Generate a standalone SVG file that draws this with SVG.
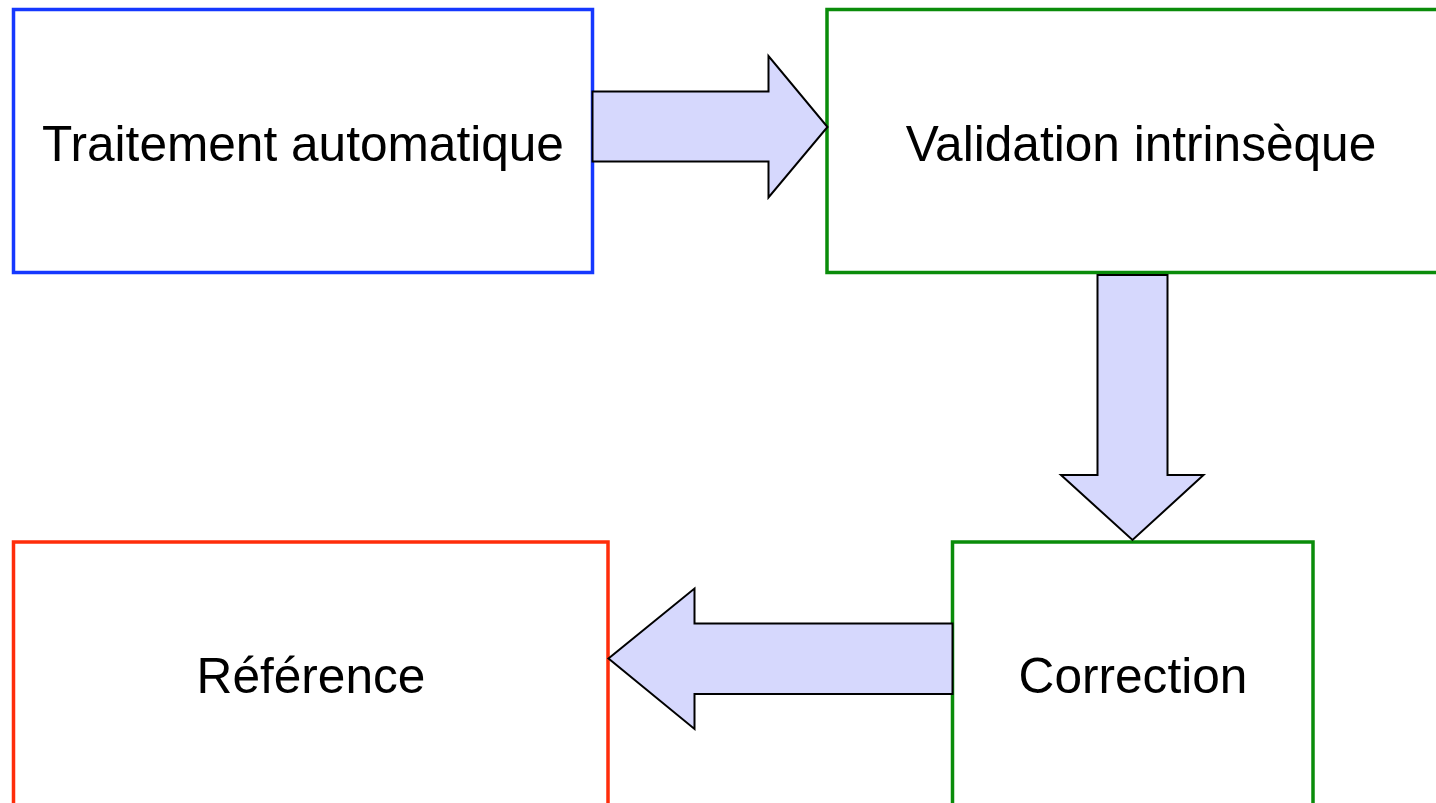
<svg xmlns="http://www.w3.org/2000/svg" width="1436" height="803" viewBox="0 0 1436 803">
  <style>
    .box { fill: #ffffff; stroke-width: 3.5; }
    .auto { stroke: #1538ff; }
    .valid { stroke: #0a8c0a; }
    .ref { stroke: #ff2d0a; }
    .lbl { font-family: "Liberation Sans", Arial, sans-serif; font-size: 49.6px; fill: #000000; text-anchor: middle; }
    .flow { fill: #d6d8fd; stroke: #000000; stroke-width: 2; stroke-linejoin: miter; }
  </style>
  <rect width="1436" height="803" fill="#ffffff"/>

  <g id="node-traitement">
    <rect class="box auto" x="13.5" y="9.5" width="579" height="263"/>
    <text class="lbl" x="303" y="160.5">Traitement automatique</text>
  </g>

  <g id="node-validation">
    <rect class="box valid" x="827" y="9.5" width="640" height="263"/>
    <text class="lbl" x="1141" y="160.5">Validation intrinsèque</text>
  </g>

  <g id="node-correction">
    <rect class="box valid" x="952.5" y="542" width="360.5" height="300"/>
    <text class="lbl" x="1133" y="692.5">Correction</text>
  </g>

  <g id="node-reference">
    <rect class="box ref" x="13.5" y="542" width="594.5" height="300"/>
    <text class="lbl" x="311" y="692.5">Référence</text>
  </g>

  <g id="connectors">
    <polygon class="flow" points="592.5,91.5 768.5,91.5 768.5,56 827.5,127 768.5,197.5 768.5,161.5 592.5,161.5"/>
    <polygon class="flow" points="1097.5,275 1167.5,275 1167.5,475 1203.5,475 1132.5,540 1061,475 1097.5,475"/>
    <polygon class="flow" points="952.5,623.5 694.5,623.5 694.5,588.5 608.5,658.5 694.5,729 694.5,694 952.5,694"/>
  </g>
</svg>
